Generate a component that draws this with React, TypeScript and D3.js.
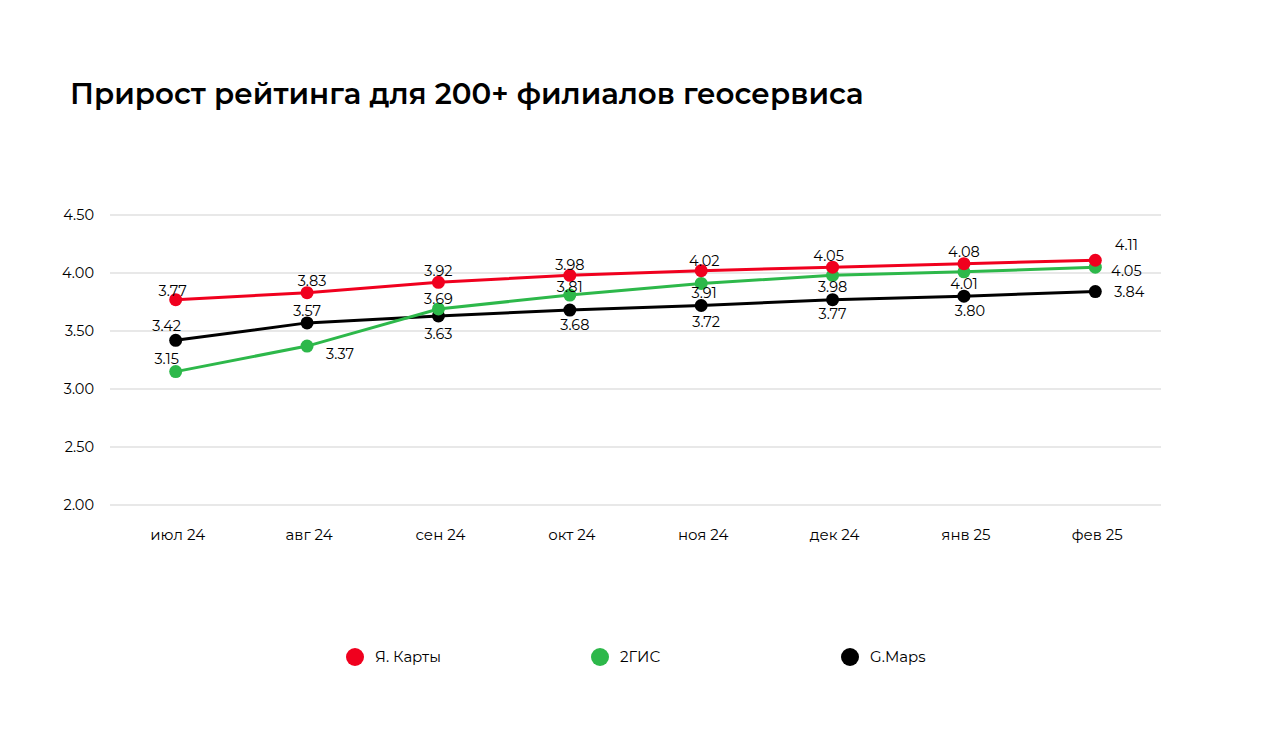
import React from "react";
import * as d3 from "d3";

const categories = ["июл 24", "авг 24", "сен 24", "окт 24", "ноя 24", "дек 24", "янв 25", "фев 25"];
const yandex = [3.77, 3.83, 3.92, 3.98, 4.02, 4.05, 4.08, 4.11];
const gis = [3.15, 3.37, 3.69, 3.81, 3.91, 3.98, 4.01, 4.05];
const gmaps = [3.42, 3.57, 3.63, 3.68, 3.72, 3.77, 3.80, 3.84];
const yTicks = [2.0, 2.5, 3.0, 3.5, 4.0, 4.5];
const seriesNames = ["Я. Карты", "2ГИС", "G.Maps"];
const title = "Прирост рейтинга для 200+ филиалов геосервиса";

// label offsets (dx, dy of label center relative to point)
const yandexOff: [number, number][] = [[-3, -9], [5, -12], [0, -11], [0, -10], [3, -10], [-4, -11], [0, -12], [31, -15]];
const gisOff: [number, number][] = [[-9, -13], [33, 8], [0, -10], [0, -8], [3, 9], [0, 12], [0, 12], [31, 4]];
const gmapsOff: [number, number][] = [[-9, -14], [0, -12], [0, 18], [5, 15], [5, 16], [0, 14], [6, 15], [34, 0]];

const colors = ["#f0001e", "#2db84a", "#000000"];
const FONT = "Montserrat, 'Open Sans', 'DejaVu Sans', sans-serif";

export default function App() {
  const W = 1272, H = 750;
  const x = d3.scalePoint<string>().domain(categories).range([110, 1161]).padding(0.5);
  const y = d3.scaleLinear().domain([2, 4.5]).range([505, 215]);
  const line = d3.line<number>().x((_, i) => x(categories[i])!).y((d) => y(d));
  const series = [
    { name: seriesNames[0], data: yandex, off: yandexOff, color: colors[0] },
    { name: seriesNames[1], data: gis, off: gisOff, color: colors[1] },
    { name: seriesNames[2], data: gmaps, off: gmapsOff, color: colors[2] },
  ];
  const drawOrder = [2, 1, 0];
  const legendX = [355, 600, 850];
  return (
    <svg width={W} height={H} style={{ position: "absolute", left: 0, top: 0, background: "#fff" }} fontFamily={FONT}>
      <text x={70} y={104} fontSize={29.3} fontWeight={600} fill="#000">{title}</text>
      {yTicks.map((t) => (
        <g key={t}>
          <line x1={110} x2={1161} y1={y(t)} y2={y(t)} stroke="#e8e8e8" strokeWidth={2} />
          <text x={94} y={y(t)} dy="0.35em" textAnchor="end" fontSize={14.5} fill="#000">{t.toFixed(2)}</text>
        </g>
      ))}
      {categories.map((c) => (
        <text key={c} x={x(c)! + 2} y={535} dy="0.35em" textAnchor="middle" fontSize={15} fill="#000">{c}</text>
      ))}
      {drawOrder.map((si) => {
        const s = series[si];
        return (
          <g key={s.name}>
            <path d={line(s.data)!} fill="none" stroke={s.color} strokeWidth={3} />
            {s.data.map((v, i) => (
              <circle key={i} cx={x(categories[i])} cy={y(v)} r={6.5} fill={s.color} />
            ))}
          </g>
        );
      })}
      {series.map((s) => (
        <g key={s.name + "l"}>
          {s.data.map((v, i) => (
            <text key={i} x={x(categories[i])! + s.off[i][0]} y={y(v) + s.off[i][1]} dy="0.35em" textAnchor="middle" fontSize={14.5} fill="#000">{v.toFixed(2)}</text>
          ))}
        </g>
      ))}
      {series.map((s, i) => (
        <g key={s.name + "lg"}>
          <circle cx={legendX[i]} cy={657} r={9} fill={s.color} />
          <text x={legendX[i] + 20} y={657} dy="0.35em" fontSize={15} fill="#000">{s.name}</text>
        </g>
      ))}
    </svg>
  );
}
